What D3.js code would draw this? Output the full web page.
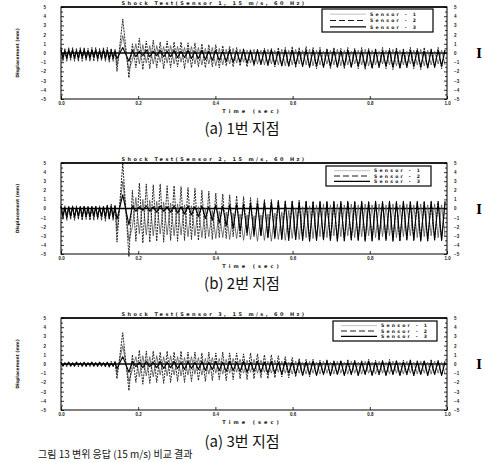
<!DOCTYPE html>
<html>
<head>
<meta charset="utf-8">
<script src="https://cdn.jsdelivr.net/npm/d3@7"></script>
<style>
  body { margin: 0; background: #fff; }
  svg { display: block; }
</style>
</head>
<body>
<div id="chart"></div>
<script>
// sample times in ms (peaks and troughs alternate)
var timeMs = [0,5,10,15,20,25,30,35,40,45,50,55,60,65,70,75,80,85,90,95,100,105,110,115,120,125,130,135,140,
  145,160,176,
  185,194,203,212,221,230,239,248,257,266,275,284,293,302,311,320,329,338,347,356,
  365,374,383,392,401,410,419,428,437,446,455,464,473,482,491,500,509,518,527,536,
  545,554,563,572,581,590,599,608,617,626,635,644,653,662,671,680,689,698,707,716,
  725,734,743,752,761,770,779,788,797,806,815,824,833,842,851,860,869,878,887,896,
  905,914,923,932,941,950,959,968,977,986,995];

var xTicks = [0, 200, 400, 600, 800, 1000];
var yTicks = [-5,-4,-3,-2,-1,0,1,2,3,4,5];
var sensorNames = ["Sensor - 1", "Sensor - 2", "Sensor - 3"];
var captions = ["(a) 1번 지점", "(b) 2번 지점", "(a) 3번 지점"];
var titles = ["Shock Test(Sensor 1, 15 m/s, 60 Hz)", "Shock Test(Sensor 2, 15 m/s, 60 Hz)", "Shock Test(Sensor 3, 15 m/s, 60 Hz)"];

// point 1
var p1s1 = [0.6,-0.9,0.5,-0.9,0.6,-0.8,0.6,-0.9,0.5,-0.9,0.6,-0.9,0.6,-0.8,0.5,-0.9,0.6,-0.9,0.6,-0.9,0.5,-0.8,0.6,-0.9,0.6,-1.0,0.5,-0.9,0.4,
  -2.0,3.7,-2.7,
  1.0,-1.6,1.6,-1.8,1.3,-1.7,1.4,-1.6,1.2,-1.7,1.3,-1.6,1.2,-1.5,1.2,-1.7,1.1,-1.6,1.1,-1.5,
  1.0,-1.6,0.9,-1.5,0.9,-1.6,0.8,-1.4,0.7,-1.5,0.6,-1.4,0.5,-1.5,0.4,-1.4,0.4,-1.3,0.5,-1.4,
  0.5,-1.5,0.6,-1.4,0.6,-1.5,0.7,-1.6,0.6,-1.5,0.7,-1.6,0.6,-1.7,0.6,-1.6,0.5,-1.7,0.6,-1.6,
  0.5,-1.7,0.6,-1.6,0.5,-1.7,0.6,-1.8,0.5,-1.7,0.5,-1.6,0.6,-1.7,0.5,-1.8,0.6,-1.7,0.5,-1.6,
  0.6,-1.7,0.5,-1.8,0.6,-1.7,0.5,-1.6,0.6,-1.7,0.5];
var p1s2 = [0.4,-0.7,0.3,-0.7,0.4,-0.6,0.4,-0.7,0.3,-0.7,0.4,-0.6,0.4,-0.7,0.3,-0.7,0.4,-0.6,0.4,-0.7,0.3,-0.7,0.4,-0.7,0.3,-0.8,0.4,-0.7,0.3,
  -1.3,1.9,-1.8,
  -0.8,1.0,-1.2,0.9,-1.1,0.8,-1.2,0.8,-1.0,0.7,-1.1,0.8,-1.2,0.7,-1.0,0.6,-1.1,0.7,-1.2,0.6,
  -1.3,0.5,-1.2,0.6,-1.4,0.5,-1.3,0.4,-1.2,0.5,-1.1,0.4,-1.0,0.3,-1.1,0.4,-1.2,0.3,-1.3,0.4,
  -1.2,0.3,-1.3,0.4,-1.4,0.3,-1.3,0.4,-1.2,0.3,-1.3,0.4,-1.4,0.3,-1.3,0.2,-1.2,0.3,-1.3,0.4,
  -1.4,0.3,-1.3,0.2,-1.2,0.3,-1.3,0.4,-1.4,0.3,-1.3,0.2,-1.2,0.3,-1.3,0.4,-1.4,0.3,-1.3,0.2,
  -1.2,0.3,-1.3,0.4,-1.4,0.3,-1.3,0.2,-1.2,0.3,-1.3];
var p1s3 = [0.3,-0.5,0.2,-0.5,0.3,-0.4,0.3,-0.5,0.2,-0.5,0.3,-0.4,0.3,-0.5,0.2,-0.5,0.3,-0.4,0.3,-0.5,0.2,-0.5,0.3,-0.5,0.3,-0.6,0.2,-0.5,0.2,
  -0.6,0.6,-0.9,
  0.3,-0.4,0.2,-0.3,0.3,-0.4,0.2,-0.3,0.3,-0.4,0.2,-0.4,0.3,-0.5,0.2,-0.5,0.3,-0.6,0.2,-0.6,
  0.3,-0.7,0.2,-0.8,0.3,-0.8,0.2,-0.9,0.3,-1.0,0.2,-1.0,0.3,-1.1,0.2,-1.2,0.3,-1.2,0.3,-1.3,
  0.3,-1.3,0.2,-1.4,0.3,-1.4,0.3,-1.3,0.2,-1.4,0.3,-1.5,0.3,-1.4,0.2,-1.5,0.3,-1.4,0.3,-1.5,
  0.2,-1.4,0.3,-1.5,0.3,-1.4,0.2,-1.5,0.3,-1.6,0.3,-1.5,0.2,-1.4,0.3,-1.5,0.3,-1.6,0.2,-1.5,
  0.3,-1.4,0.3,-1.5,0.2,-1.6,0.3,-1.5,0.3,-1.4,0.3];

// point 2
var p2s1 = [0.3,-1.2,0.3,-1.3,0.2,-1.2,0.3,-1.3,0.3,-1.2,0.2,-1.3,0.3,-1.2,0.3,-1.3,0.2,-1.3,0.3,-1.2,0.3,-1.3,0.2,-1.4,0.4,-1.2,0.5,-1.3,0.4,
  -3.7,5.0,-5.3,
  2.0,-3.6,2.8,-3.8,2.7,-3.7,2.6,-3.6,2.7,-3.7,2.5,-3.5,2.5,-3.6,2.4,-3.5,2.3,-3.4,2.2,-3.5,
  2.0,-3.3,1.9,-3.4,1.7,-3.2,1.6,-3.3,1.5,-3.1,1.4,-3.2,1.3,-3.0,1.2,-3.1,1.1,-3.0,1.0,-3.2,
  1.0,-3.1,0.9,-3.3,0.9,-3.2,0.8,-3.4,0.9,-3.3,0.8,-3.5,0.8,-3.4,0.7,-3.5,0.8,-3.4,0.7,-3.5,
  0.8,-3.6,0.7,-3.5,0.8,-3.4,0.7,-3.5,0.8,-3.6,0.7,-3.5,0.8,-3.4,0.7,-3.5,0.8,-3.6,0.7,-3.5,
  0.8,-3.4,0.7,-3.5,0.8,-3.6,0.7,-3.5,0.8,-3.4,0.7];
var p2s2 = [0.2,-1.0,0.1,-1.1,0.2,-1.0,0.2,-1.1,0.1,-1.0,0.2,-1.1,0.2,-1.0,0.1,-1.1,0.2,-1.0,0.2,-1.1,0.1,-1.0,0.2,-1.1,0.3,-1.2,0.2,-1.1,0.3,
  -2.4,3.0,-3.5,
  -2.0,1.2,-2.8,1.0,-2.9,0.9,-3.0,0.8,-2.8,0.7,-2.9,0.6,-3.0,0.5,-2.9,0.4,-3.1,0.3,-3.0,0.2,
  -3.2,0.0,-3.1,-0.2,-3.3,-0.3,-3.2,-0.4,-3.4,-0.5,-3.3,-0.6,-3.5,-0.7,-3.4,-0.8,-3.6,-0.7,-3.5,-0.6,
  -3.6,-0.5,-3.4,-0.4,-3.5,-0.2,-3.3,0.0,-3.4,0.2,-3.2,0.3,-3.3,0.4,-3.1,0.5,-3.2,0.4,-3.0,0.5,
  -3.1,0.4,-3.0,0.5,-3.2,0.4,-3.1,0.5,-3.0,0.4,-3.2,0.5,-3.1,0.4,-3.0,0.5,-3.2,0.4,-3.1,0.5,
  -3.0,0.4,-3.2,0.5,-3.1,0.4,-3.0,0.5,-3.2,0.4,-3.1];
var p2s3 = [0.2,-0.8,0.1,-0.9,0.2,-0.8,0.2,-0.9,0.1,-0.8,0.2,-0.9,0.2,-0.8,0.1,-0.9,0.2,-0.8,0.2,-0.9,0.1,-0.8,0.2,-0.9,0.3,-1.0,0.2,-0.9,0.2,
  -1.2,1.5,-1.8,
  0.3,-0.3,0.2,-0.2,0.3,-0.3,0.2,-0.4,0.3,-0.3,0.2,-0.4,0.3,-0.5,0.2,-0.6,0.3,-0.7,0.2,-0.9,
  0.3,-1.1,0.2,-1.3,0.4,-1.6,0.3,-1.9,0.4,-2.2,0.5,-2.5,0.5,-2.7,0.6,-2.9,0.6,-3.0,0.7,-3.2,
  0.7,-3.3,0.8,-3.4,0.7,-3.5,0.8,-3.4,0.7,-3.5,0.8,-3.6,0.7,-3.5,0.8,-3.4,0.7,-3.5,0.8,-3.6,
  0.7,-3.5,0.8,-3.4,0.7,-3.5,0.8,-3.6,0.7,-3.5,0.8,-3.4,0.7,-3.5,0.8,-3.6,0.7,-3.5,0.8,-3.4,
  0.7,-3.5,0.8,-3.6,0.7,-3.5,0.8,-3.4,0.7,-3.5,0.8];

// point 3
var p3s1 = [0.2,-0.3,0.1,-0.3,0.2,-0.2,0.2,-0.3,0.1,-0.3,0.2,-0.2,0.2,-0.3,0.1,-0.3,0.2,-0.2,0.2,-0.3,0.1,-0.3,0.2,-0.3,0.2,-0.4,0.3,-0.3,0.3,
  -1.6,3.4,-2.9,
  1.0,-2.0,1.5,-2.2,1.4,-2.1,1.4,-2.0,1.3,-2.1,1.4,-2.0,1.3,-1.9,1.4,-2.0,1.3,-1.9,1.3,-1.8,
  1.2,-1.9,1.3,-1.8,1.2,-1.7,1.3,-1.8,1.2,-1.7,1.2,-1.6,1.1,-1.7,1.2,-1.6,1.1,-1.5,1.0,-1.6,
  1.0,-1.5,0.9,-1.4,0.8,-1.5,0.7,-1.4,0.6,-1.3,0.5,-1.4,0.5,-1.3,0.4,-1.2,0.5,-1.3,0.4,-1.2,
  0.4,-1.3,0.5,-1.2,0.4,-1.3,0.4,-1.2,0.5,-1.3,0.4,-1.2,0.4,-1.3,0.5,-1.2,0.4,-1.3,0.4,-1.2,
  0.5,-1.3,0.4,-1.2,0.4,-1.3,0.5,-1.2,0.4,-1.3,0.4];
var p3s2 = [0.1,-0.2,0.2,-0.2,0.1,-0.3,0.1,-0.2,0.2,-0.2,0.1,-0.3,0.1,-0.2,0.2,-0.2,0.1,-0.3,0.1,-0.2,0.2,-0.2,0.1,-0.3,0.2,-0.3,0.1,-0.2,0.2,
  -1.0,2.0,-1.9,
  -0.6,0.8,-1.4,0.9,-1.3,0.8,-1.4,0.9,-1.2,0.8,-1.3,0.9,-1.2,0.8,-1.3,0.7,-1.2,0.8,-1.1,0.7,
  -1.2,0.6,-1.1,0.7,-1.0,0.6,-1.1,0.5,-1.0,0.6,-0.9,0.5,-1.0,0.4,-0.9,0.5,-1.0,0.4,-0.9,0.3,
  -1.0,0.4,-0.9,0.3,-1.0,0.2,-1.1,0.3,-1.0,0.2,-1.1,0.3,-1.0,0.2,-1.1,0.3,-1.0,0.2,-1.1,0.3,
  -1.0,0.2,-1.1,0.3,-1.0,0.2,-1.1,0.3,-1.0,0.2,-1.1,0.3,-1.0,0.2,-1.1,0.3,-1.0,0.2,-1.1,0.3,
  -1.0,0.2,-1.1,0.3,-1.0,0.2,-1.1,0.3,-1.0,0.2,-1.1];
var p3s3 = [0.2,-0.2,0.1,-0.1,0.2,-0.2,0.1,-0.2,0.2,-0.1,0.1,-0.2,0.2,-0.2,0.1,-0.1,0.2,-0.2,0.1,-0.2,0.2,-0.1,0.1,-0.2,0.2,-0.2,0.1,-0.2,0.2,
  -0.5,0.8,-0.9,
  0.3,-0.3,0.2,-0.4,0.3,-0.3,0.2,-0.4,0.3,-0.5,0.2,-0.4,0.3,-0.5,0.2,-0.6,0.3,-0.5,0.2,-0.6,
  0.3,-0.7,0.2,-0.6,0.3,-0.7,0.2,-0.8,0.3,-0.7,0.2,-0.8,0.3,-0.9,0.2,-0.8,0.3,-0.9,0.2,-1.0,
  0.3,-1.0,0.2,-1.1,0.3,-1.0,0.2,-1.1,0.3,-1.2,0.2,-1.1,0.3,-1.2,0.2,-1.1,0.3,-1.2,0.2,-1.1,
  0.3,-1.2,0.2,-1.1,0.3,-1.2,0.2,-1.1,0.3,-1.2,0.2,-1.1,0.3,-1.2,0.2,-1.1,0.3,-1.2,0.2,-1.1,
  0.3,-1.2,0.2,-1.1,0.3,-1.2,0.2,-1.1,0.3,-1.2,0.2];

var panels = [[p1s1, p1s2, p1s3], [p2s1, p2s2, p2s3], [p3s1, p3s2, p3s3]];

// layout
var W = 485, H = 462;
var left = 61, right = 447;
var boxes = [{top: 7, bottom: 99}, {top: 163, bottom: 254}, {top: 318, bottom: 410}];
var legendBoxes = [{x: 322, y: 9, w: 111, h: 23}, {x: 326, y: 166, w: 105, h: 20}, {x: 333, y: 321, w: 104, h: 20}];
var captionY = [134, 289, 447];
var seriesStyle = [
  {color: "#111", width: 0.9, dash: "2,1"},
  {color: "#555", width: 0.8, dash: null},
  {color: "#000", width: 1.1, dash: null}
];

var svg = d3.select("#chart")
  .append("svg")
    .attr("width", W)
    .attr("height", H)
    .style("font-family", "'DejaVu Sans', sans-serif");

var x = d3.scaleLinear().domain([0, 1000]).range([left, right]);

panels.forEach(function(series, i) {
  var box = boxes[i];
  var y = d3.scaleLinear().domain([-5, 5]).range([box.bottom, box.top]);
  var g = svg.append("g");

  // zero line
  g.append("line")
    .attr("x1", left).attr("x2", right)
    .attr("y1", y(0)).attr("y2", y(0))
    .attr("stroke", "#000").attr("stroke-width", 1.3);

  var line = d3.line()
    .x(function(d, k) { return x(timeMs[k]); })
    .y(function(d) { return y(d); });

  // gray first, then dashed, then black
  [1, 0, 2].forEach(function(s) {
    if (series[s].length !== timeMs.length) console.warn("length", i, s, series[s].length);
    var st = seriesStyle[s];
    g.append("path")
      .datum(series[s])
      .attr("d", line)
      .attr("fill", "none")
      .attr("stroke", st.color)
      .attr("stroke-width", st.width)
      .attr("stroke-linejoin", "round")
      .attr("stroke-dasharray", st.dash);
  });

  // frame
  g.append("rect")
    .attr("x", left).attr("y", box.top)
    .attr("width", right - left).attr("height", box.bottom - box.top)
    .attr("fill", "none").attr("stroke", "#000").attr("stroke-width", 1);
  g.append("line")
    .attr("x1", left).attr("x2", right)
    .attr("y1", box.top).attr("y2", box.top)
    .attr("stroke", "#000").attr("stroke-width", 1.6);

  // axes
  var minor = d3.range(-4.5, 5, 1);
  g.append("g").attr("class", "ax")
    .attr("transform", "translate(" + left + ",0)")
    .call(d3.axisLeft(y).tickValues(yTicks).tickSizeInner(-3).tickSizeOuter(0).tickPadding(15).tickFormat(d3.format("d")));
  g.append("g").attr("class", "ax")
    .attr("transform", "translate(" + left + ",0)")
    .call(d3.axisLeft(y).tickValues(minor).tickSizeInner(-2).tickSizeOuter(0).tickFormat(""));
  g.append("g").attr("class", "ax")
    .attr("transform", "translate(" + right + ",0)")
    .call(d3.axisRight(y).tickValues(yTicks).tickSizeInner(-3).tickSizeOuter(0).tickPadding(7).tickFormat(d3.format("d")));
  g.append("g").attr("class", "ax")
    .attr("transform", "translate(" + right + ",0)")
    .call(d3.axisRight(y).tickValues(minor).tickSizeInner(-2).tickSizeOuter(0).tickFormat(""));
  g.append("g").attr("class", "ax")
    .attr("transform", "translate(0," + box.bottom + ")")
    .call(d3.axisBottom(x).tickValues(xTicks).tickSizeInner(-3).tickSizeOuter(0).tickPadding(3)
      .tickFormat(function(d) { return d3.format(".1f")(d / 1000); }));

  // title above the plot
  g.append("text")
    .attr("x", 214).attr("y", box.top - 2)
    .attr("text-anchor", "middle")
    .attr("font-size", 5).attr("font-weight", "bold")
    .attr("letter-spacing", 2.4)
    .attr("fill", "#222")
    .text(titles[i]);

  // x axis title
  g.append("text")
    .attr("x", 252).attr("y", box.bottom + 14)
    .attr("text-anchor", "middle")
    .attr("font-size", 5).attr("font-weight", "bold")
    .attr("letter-spacing", 3)
    .attr("fill", "#222")
    .text("Time (sec)");

  // y axis title
  g.append("text")
    .attr("transform", "translate(19," + y(0) + ") rotate(-90)")
    .attr("text-anchor", "middle")
    .attr("font-size", 4.5).attr("font-weight", "bold")
    .attr("fill", "#222")
    .text("Displacement (mm)");

  // bracket mark at the right edge
  g.append("text")
    .attr("x", 479).attr("y", y(0) + 5)
    .attr("text-anchor", "middle")
    .attr("font-family", "'DejaVu Serif', serif")
    .attr("font-size", 12).attr("font-weight", "bold")
    .text("I");

  // legend
  var lb = legendBoxes[i];
  var lg = g.append("g").attr("transform", "translate(" + lb.x + "," + lb.y + ")");
  lg.append("rect")
    .attr("width", lb.w).attr("height", lb.h)
    .attr("fill", "#fff").attr("stroke", "#000").attr("stroke-width", 1.2);
  var rowH = (lb.h - 4) / 3;
  sensorNames.forEach(function(name, s) {
    var ry = 2 + rowH * s + rowH / 2;
    lg.append("line")
      .attr("x1", 8).attr("x2", 44)
      .attr("y1", ry).attr("y2", ry)
      .attr("stroke", s === 0 ? "#bbb" : "#000")
      .attr("stroke-width", s === 2 ? 1.3 : 0.9)
      .attr("stroke-dasharray", s === 1 ? "6,3" : null);
    lg.append("text")
      .attr("x", 48).attr("y", ry + 1.7)
      .attr("font-size", 4.6).attr("font-weight", "bold")
      .attr("letter-spacing", 2.2)
      .attr("fill", "#222")
      .text(name);
  });

  // caption
  svg.append("text")
    .attr("x", 242).attr("y", captionY[i])
    .attr("text-anchor", "middle")
    .attr("font-family", "'Noto Sans CJK KR', sans-serif")
    .attr("font-size", 15)
    .attr("fill", "#111")
    .text(captions[i]);
});

svg.selectAll(".ax path").remove();
svg.selectAll(".ax line").attr("stroke", "#000").attr("stroke-width", 0.8);
svg.selectAll(".ax text").attr("font-size", 4.5).attr("font-weight", "bold").attr("fill", "#222");

// figure caption at the bottom edge
svg.append("text")
  .attr("x", 38).attr("y", 458)
  .attr("font-family", "'Noto Sans CJK KR', sans-serif")
  .attr("font-size", 10)
  .attr("fill", "#111")
  .text("그림 13 변위 응답 (15 m/s) 비교 결과");
</script>
</body>
</html>
